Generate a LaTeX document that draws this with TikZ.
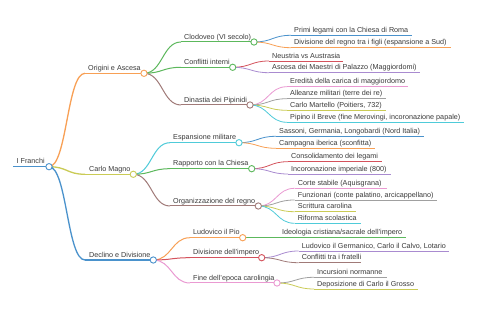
\documentclass[tikz,border=0pt]{standalone}
\usepackage{fontspec}
\setmainfont{Liberation Sans}
\usetikzlibrary{calc}
\definecolor{cA}{HTML}{4A92CC}
\definecolor{cB}{HTML}{F8A055}
\definecolor{cC}{HTML}{5CB85C}
\definecolor{cD}{HTML}{D4525C}
\definecolor{cE}{HTML}{A98BD0}
\definecolor{cF}{HTML}{A07A78}
\definecolor{cG}{HTML}{EA9AD2}
\definecolor{cH}{HTML}{A0A0A0}
\definecolor{cI}{HTML}{CACB55}
\definecolor{cJ}{HTML}{4FCBD9}
\definecolor{txt}{HTML}{3A3A3A}
\tikzset{
  lbl/.style={anchor=base west, inner sep=0pt, font=\fontsize{7.2}{8.6}\selectfont, text=txt},
  dot/.style={circle, draw=#1, fill=white, inner sep=0pt, minimum size=6.3pt, line width=0.9pt},
  w0/.style={line width=1.5pt},
  w1/.style={line width=1.3pt},
  w2/.style={line width=1.0pt},
  w3/.style={line width=0.8pt},
}
% \T{name}{startx}{endx}{y}{textx}{color}{width style}{text}
\newcommand{\T}[8]{%
  \coordinate (#1-s) at (#2,#4);
  \coordinate (#1-e) at (#3,#4);
  \draw[#6,#7] (#1-s) -- (#1-e);
  \node[lbl] (#1) at (#5,#4-2.8) {#8};
}
% \Lk{parent}{child}{color}{width style}
\newcommand{\Lk}[4]{%
  \draw[#3,#4] let \p1=(#1-e), \p2=(#2-s) in (#1-e) .. controls ({(\x1+\x2)/2},\y1) and ({(\x1+\x2)/2},\y2) .. (#2-s);
}
\newcommand{\C}[2]{\node[dot=#2] (#1-c) at (#1-e) {};}
\begin{document}
\begin{tikzpicture}[x=1pt,y=-1pt]
\useasboundingbox[fill=white] (0,0) rectangle (480,320);
% root
\T{R}{13}{49}{166.7}{16.5}{cA}{w0}{I Franchi}
% level 1
\T{A}{85}{144}{73.3}{88}{cB}{w1}{Origini e Ascesa}
\T{B}{85}{133.3}{174.3}{89}{cI}{w1}{Carlo Magno}
\T{C}{85}{153.3}{260}{89}{cA}{w1}{Declino e Divisione}
\Lk{R}{A}{cB}{w1}
\Lk{R}{B}{cI}{w1}
\Lk{R}{C}{cA}{w1}
% level 2
\T{A1}{181}{254}{42}{184}{cC}{w2}{Clodoveo (VI secolo)}
\T{A2}{181}{232.7}{67.3}{184}{cC}{w2}{Conflitti interni}
\T{A3}{181}{250}{105}{184}{cF}{w2}{Dinastia dei Pipinidi}
\Lk{A}{A1}{cC}{w2}
\Lk{A}{A2}{cC}{w2}
\Lk{A}{A3}{cF}{w2}
\T{B1}{170}{239}{142.7}{173}{cJ}{w2}{Espansione militare}
\T{B2}{170}{251.7}{168.7}{173}{cC}{w2}{Rapporto con la Chiesa}
\T{B3}{170}{258.3}{206}{173}{cF}{w2}{Organizzazione del regno}
\Lk{B}{B1}{cJ}{w2}
\Lk{B}{B2}{cC}{w2}
\Lk{B}{B3}{cF}{w2}
\T{C1}{190}{242.7}{237.7}{193}{cB}{w2}{Ludovico il Pio}
\T{C2}{190}{261.7}{257.7}{193}{cD}{w2}{Divisione dell'impero}
\T{C3}{190}{277}{283}{193}{cG}{w2}{Fine dell'epoca carolingia}
\Lk{C}{C1}{cB}{w2}
\Lk{C}{C2}{cD}{w2}
\Lk{C}{C3}{cG}{w2}
% level 3
\T{A1a}{291}{411.7}{35.3}{294}{cA}{w3}{Primi legami con la Chiesa di Roma}
\T{A1b}{291}{450.7}{47.7}{294}{cB}{w3}{Divisione del regno tra i figli (espansione a Sud)}
\Lk{A1}{A1a}{cA}{w3}
\Lk{A1}{A1b}{cB}{w3}
\T{A2a}{269}{343}{61}{272}{cD}{w3}{Neustria vs Austrasia}
\T{A2b}{269}{420}{72.7}{272}{cE}{w3}{Ascesa dei Maestri di Palazzo (Maggiordomi)}
\Lk{A2}{A2a}{cD}{w3}
\Lk{A2}{A2b}{cE}{w3}
\T{A3a}{287}{408}{86.7}{290}{cG}{w3}{Eredità della carica di maggiordomo}
\T{A3b}{287}{386}{98.7}{290}{cH}{w3}{Alleanze militari (terre dei re)}
\T{A3c}{287}{386}{110.3}{290}{cI}{w3}{Carlo Martello (Poitiers, 732)}
\T{A3d}{287}{464}{122.3}{290}{cJ}{w3}{Pipino il Breve (fine Merovingi, incoronazione papale)}
\Lk{A3}{A3a}{cG}{w3}
\Lk{A3}{A3b}{cH}{w3}
\Lk{A3}{A3c}{cI}{w3}
\Lk{A3}{A3d}{cJ}{w3}
\T{B1a}{276}{424}{136.3}{279}{cA}{w3}{Sassoni, Germania, Longobardi (Nord Italia)}
\T{B1b}{276}{375}{148.3}{279}{cB}{w3}{Campagna iberica (sconfitta)}
\Lk{B1}{B1a}{cA}{w3}
\Lk{B1}{B1b}{cB}{w3}
\T{B2a}{288}{382}{161.7}{291}{cD}{w3}{Consolidamento dei legami}
\T{B2b}{288}{390.7}{174}{291}{cE}{w3}{Incoronazione imperiale (800)}
\Lk{B2}{B2a}{cD}{w3}
\Lk{B2}{B2b}{cE}{w3}
\T{B3a}{294.7}{386.7}{188.3}{297.7}{cG}{w3}{Corte stabile (Aquisgrana)}
\T{B3b}{294.7}{437}{200}{297.7}{cH}{w3}{Funzionari (conte palatino, arcicappellano)}
\T{B3c}{294.7}{356}{211.7}{297.7}{cI}{w3}{Scrittura carolina}
\T{B3d}{294.7}{360.7}{223.3}{297.7}{cJ}{w3}{Riforma scolastica}
\Lk{B3}{B3a}{cG}{w3}
\Lk{B3}{B3b}{cH}{w3}
\Lk{B3}{B3c}{cI}{w3}
\Lk{B3}{B3d}{cJ}{w3}
\T{C1a}{279}{405.7}{237.7}{282}{cC}{w3}{Ideologia cristiana/sacrale dell'impero}
\Lk{C1}{C1a}{cC}{w3}
\T{C2a}{298.7}{449}{251}{301.7}{cE}{w3}{Ludovico il Germanico, Carlo il Calvo, Lotario}
\T{C2b}{298.7}{360.7}{262.7}{301.7}{cF}{w3}{Conflitti tra i fratelli}
\Lk{C2}{C2a}{cE}{w3}
\Lk{C2}{C2b}{cF}{w3}
\T{C3a}{314}{386.7}{277.3}{317}{cH}{w3}{Incursioni normanne}
\T{C3b}{314}{417.7}{289}{317}{cI}{w3}{Deposizione di Carlo il Grosso}
\Lk{C3}{C3a}{cH}{w3}
\Lk{C3}{C3b}{cI}{w3}
% circles
\C{R}{cA}
\C{A}{cB}
\C{B}{cI}
\C{C}{cA}
\C{A1}{cC}
\C{A2}{cC}
\C{A3}{cF}
\C{B1}{cJ}
\C{B2}{cC}
\C{B3}{cF}
\C{C1}{cB}
\C{C2}{cD}
\C{C3}{cG}
\end{tikzpicture}
\end{document}
